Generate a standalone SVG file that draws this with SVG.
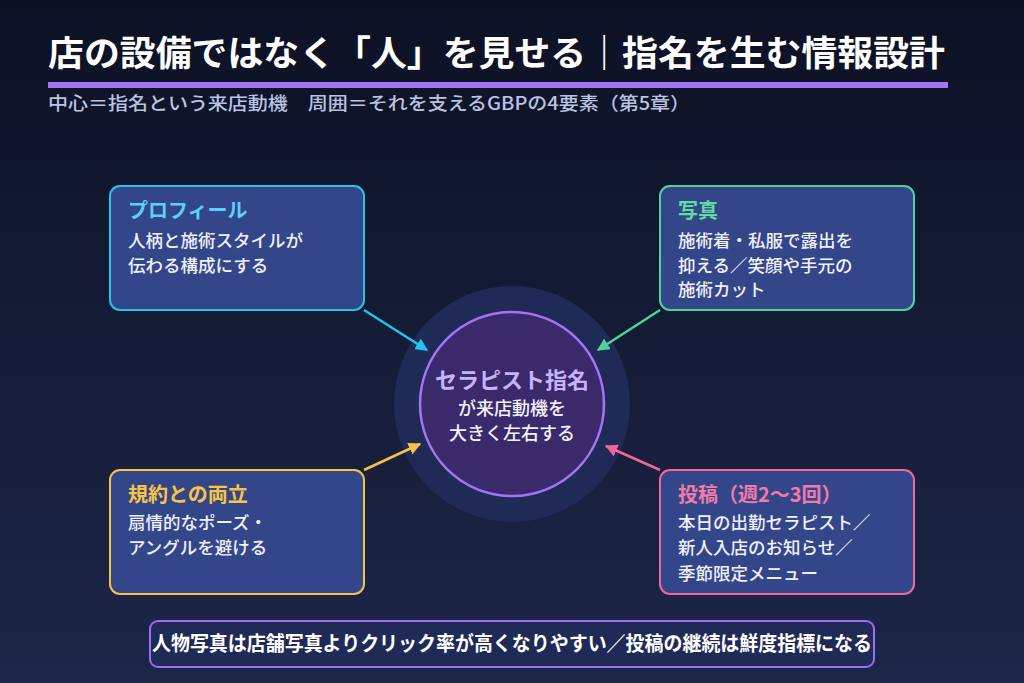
<svg xmlns="http://www.w3.org/2000/svg" width="1024" height="683" viewBox="0 0 1024 683">
<defs>
<linearGradient id="bg" x1="0" y1="0" x2="0" y2="1">
<stop offset="0" stop-color="#0d1124"/>
<stop offset="1" stop-color="#1c2648"/>
</linearGradient>
<marker id="mc" viewBox="0 0 10 10" refX="9" refY="5" markerWidth="5" markerHeight="5" orient="auto"><path d="M0,0 L10,5 L0,10 z" fill="#22c5ee"/></marker>
<marker id="mg" viewBox="0 0 10 10" refX="9" refY="5" markerWidth="5" markerHeight="5" orient="auto"><path d="M0,0 L10,5 L0,10 z" fill="#4fd39b"/></marker>
<marker id="my" viewBox="0 0 10 10" refX="9" refY="5" markerWidth="5" markerHeight="5" orient="auto"><path d="M0,0 L10,5 L0,10 z" fill="#f6c244"/></marker>
<marker id="mp" viewBox="0 0 10 10" refX="9" refY="5" markerWidth="5" markerHeight="5" orient="auto"><path d="M0,0 L10,5 L0,10 z" fill="#f2679a"/></marker>
</defs>
<style>
text{font-family:"Noto Sans CJK JP","Noto Sans",sans-serif;}
.box{fill:#34468a;stroke-width:2;}
.ttl{font-size:20px;font-weight:bold;}
.body{font-size:17.5px;font-weight:500;fill:#eef1fa;}
.conn{stroke-width:2.5;fill:none;}
</style>
<rect width="1024" height="683" fill="url(#bg)"/>
<g id="header">
<text x="48" y="66" font-size="35" font-weight="bold" fill="#ffffff" textLength="897" lengthAdjust="spacingAndGlyphs">店の設備ではなく「人」を見せる｜指名を生む情報設計</text>
<rect x="48" y="82" width="900" height="6" fill="#a374f2"/>
<text x="48" y="110" font-size="18" font-weight="500" fill="#b9c4e2" textLength="642" lengthAdjust="spacingAndGlyphs">中心＝指名という来店動機　周囲＝それを支えるGBPの4要素（第5章）</text>
</g>
<g id="center">
<circle cx="512" cy="404" r="118" fill="#1f2b56"/>
<circle cx="512" cy="404" r="92" fill="#3a2a6c" stroke="#a374f2" stroke-width="2.5"/>
<text x="512" y="388" text-anchor="middle" font-size="22" font-weight="bold" fill="#c8b3f7">セラピスト指名</text>
<text x="512" y="415" text-anchor="middle" font-size="18" font-weight="500" fill="#f2f2fa">が来店動機を</text>
<text x="512" y="440" text-anchor="middle" font-size="18" font-weight="500" fill="#f2f2fa">大きく左右する</text>
</g>
<g id="connectors">
<line class="conn" x1="364" y1="310" x2="427" y2="350" stroke="#22c5ee" marker-end="url(#mc)"/>
<line class="conn" x1="660" y1="310" x2="598" y2="350" stroke="#4fd39b" marker-end="url(#mg)"/>
<line class="conn" x1="364" y1="470" x2="420" y2="444" stroke="#f6c244" marker-end="url(#my)"/>
<line class="conn" x1="660" y1="470" x2="606" y2="446" stroke="#f2679a" marker-end="url(#mp)"/>
</g>
<g id="profile">
<rect class="box" x="110" y="186" width="254" height="124" rx="10" stroke="#22c5ee"/>
<text class="ttl" x="128" y="218" fill="#5cd0f6">プロフィール</text>
<text class="body" x="128" y="247">人柄と施術スタイルが</text>
<text class="body" x="128" y="272">伝わる構成にする</text>
</g>
<g id="photo">
<rect class="box" x="660" y="186" width="254" height="124" rx="10" stroke="#4fd39b"/>
<text class="ttl" x="678" y="218" fill="#5fdc9f">写真</text>
<text class="body" x="678" y="247">施術着・私服で露出を</text>
<text class="body" x="678" y="272">抑える／笑顔や手元の</text>
<text class="body" x="678" y="296">施術カット</text>
</g>
<g id="rules">
<rect class="box" x="110" y="470" width="254" height="124" rx="10" stroke="#f6c244"/>
<text class="ttl" x="128" y="502" fill="#f7c445">規約との両立</text>
<text class="body" x="128" y="529">扇情的なポーズ・</text>
<text class="body" x="128" y="554">アングルを避ける</text>
</g>
<g id="posts">
<rect class="box" x="660" y="470" width="254" height="124" rx="10" stroke="#f2679a"/>
<text class="ttl" x="678" y="502" fill="#f27aa8">投稿（週2〜3回）</text>
<text class="body" x="678" y="529">本日の出勤セラピスト／</text>
<text class="body" x="678" y="554">新人入店のお知らせ／</text>
<text class="body" x="678" y="580">季節限定メニュー</text>
</g>
<g id="footer">
<rect x="150" y="621" width="724" height="46" rx="8" fill="#1f2b56" stroke="#9a70f0" stroke-width="2"/>
<text x="512" y="651" text-anchor="middle" font-size="20" font-weight="bold" fill="#ffffff" textLength="720" lengthAdjust="spacingAndGlyphs">人物写真は店舗写真よりクリック率が高くなりやすい／投稿の継続は鮮度指標になる</text>
</g>
</svg>
